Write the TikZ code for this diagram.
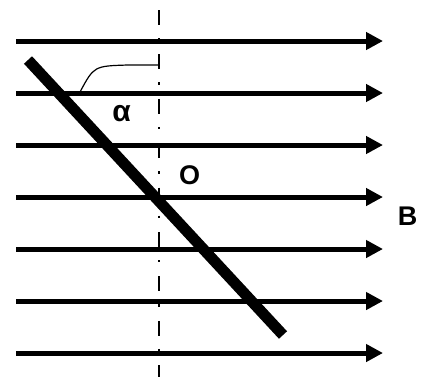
\documentclass[tikz,border=0pt]{standalone}
\usepackage{fontspec}
\setmainfont{Liberation Sans}
\usetikzlibrary{arrows.meta}

\tikzset{
  fieldline/.style={line width=2.5pt, -{Triangle[length=8.5pt, width=8.5pt]}},
  rod/.style={line width=5.5pt},
  axisline/.style={line width=1.3pt, dash pattern=on 7.5pt off 6.5pt on 1.2pt off 7pt},
  anglemark/.style={line width=0.6pt},
  lbl/.style={inner sep=0pt, font=\fontsize{13.5}{15}\selectfont\bfseries}
}

\begin{document}
\begin{tikzpicture}[x=0.5pt, y=-0.5pt]
      \useasboundingbox (0,0) rectangle (427,377);
      \foreach \i in {0,...,6} {
        \coordinate (l\i) at (16,41+52*\i);
        \coordinate (r\i) at (383,41+52*\i);
        \draw[fieldline] (l\i) -- (r\i);
      }
      \coordinate (axtop) at (159,10); \coordinate (axbot) at (159,377);
      \draw[axisline] (axtop) -- (axbot);
      \coordinate (rodtop) at (28,60); \coordinate (rodbot) at (283,335);
      \draw[rod] (rodtop) -- (rodbot);
      \coordinate (arcstart) at (80,92); \coordinate (arcend) at (159,65);
      \draw[anglemark] (arcstart) .. controls (94,66) .. (128,65) -- (arcend);
      \node[lbl, font=\fontsize{15}{17}\selectfont\bfseries] (alpha) at (121.5,113.5) {α};
      \node[lbl] (origin) at (189.5,175) {O};
      \node[lbl] (field) at (407.5,216) {B};
    \end{tikzpicture}
\end{document}
